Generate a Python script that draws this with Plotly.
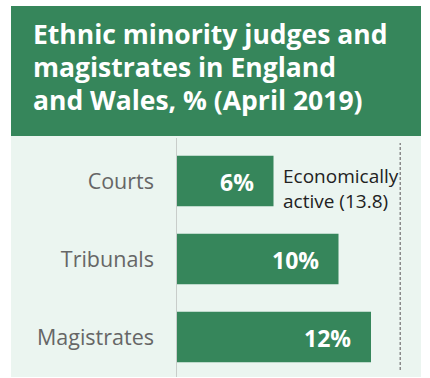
import plotly.graph_objects as go

# Share of judges and magistrates from ethnic minority backgrounds (%)
categories = ["Courts", "Tribunals", "Magistrates"]
shares = [6, 10, 12]
bar_labels = ["6%", "10%", "12%"]
# Benchmark: ethnic minority share of the economically active population
econ_active = 13.8
econ_label = "Economically<br>active (13.8)"
title_lines = ["Ethnic minority judges and", "magistrates in England", "and Wales, % (April 2019)"]

GREEN = "#36865b"
PANEL = "#ebf5f0"
FONT = "Open Sans"

W, H = 430, 378
ML, MR, MT, MB = 176, 9, 142, 2
PW, PH = W - ML - MR, H - MT - MB


def px_to_paper_x(px):
    return (px - ML) / PW


def px_to_paper_y(py):
    return (H - MB - py) / PH


fig = go.Figure(
    go.Bar(
        x=shares,
        y=categories,
        orientation="h",
        width=0.65,
        marker=dict(color=GREEN, line=dict(width=0)),
        hoverinfo="skip",
    )
)

shapes = [
    # header block
    dict(type="rect", xref="paper", yref="paper",
         x0=px_to_paper_x(11), x1=px_to_paper_x(421),
         y0=px_to_paper_y(136), y1=px_to_paper_y(6),
         fillcolor=GREEN, line=dict(width=0), layer="below"),
    # light panel behind the bars
    dict(type="rect", xref="paper", yref="paper",
         x0=px_to_paper_x(11), x1=px_to_paper_x(421),
         y0=px_to_paper_y(377), y1=px_to_paper_y(136),
         fillcolor=PANEL, line=dict(width=0), layer="below"),
    # zero axis line
    dict(type="line", xref="x", yref="paper", x0=0, x1=0,
         y0=px_to_paper_y(377), y1=px_to_paper_y(138),
         line=dict(color="#c8cdca", width=2), layer="above"),
    # economically active benchmark
    dict(type="line", xref="x", yref="paper", x0=econ_active, x1=econ_active,
         y0=px_to_paper_y(370), y1=px_to_paper_y(143),
         line=dict(color="#8a8a8a", width=1.5, dash="3px,2px")),
]

annotations = []
# three-line header, 33px line pitch
for i, line in enumerate(title_lines):
    annotations.append(
        dict(text=line, xref="paper", yref="paper",
             x=px_to_paper_x(31), y=px_to_paper_y(33.5 + 33 * i),
             xanchor="left", yanchor="middle", align="left", showarrow=False,
             font=dict(family=FONT, size=26.5, color="white", weight="bold"))
    )
# benchmark note beside the first bar
annotations.append(
    dict(text=econ_label, xref="x", yref="paper", x=shares[0],
         y=px_to_paper_y(188.5),
         xanchor="left", yanchor="middle", align="left", showarrow=False,
         xshift=7.5,
         font=dict(family=FONT, size=19, color="#222222"))
)
# value labels inside the bar ends
for cat, val, lab in zip(categories, shares, bar_labels):
    annotations.append(
        dict(text=lab, xref="x", yref="y", x=val, y=cat,
             xanchor="right", yanchor="middle", showarrow=False,
             xshift=-18, yshift=-1,
             font=dict(family=FONT, size=23, color="white", weight="bold"))
    )

fig.update_layout(
    width=W, height=H,
    margin=dict(l=ML, r=MR, t=MT, b=MB),
    paper_bgcolor="white",
    plot_bgcolor=PANEL,
    showlegend=False,
    shapes=shapes,
    annotations=annotations,
    xaxis=dict(range=[0, PW / 16.25], visible=False, fixedrange=True),
    yaxis=dict(
        categoryorder="array", categoryarray=categories, autorange="reversed",
        showgrid=False, zeroline=False, showline=False, ticks="",
        ticklabelstandoff=21,
        tickfont=dict(family=FONT, size=21.5, color="#666666"),
        fixedrange=True,
    ),
)

fig.write_html("out.html", config={"displayModeBar": False})
